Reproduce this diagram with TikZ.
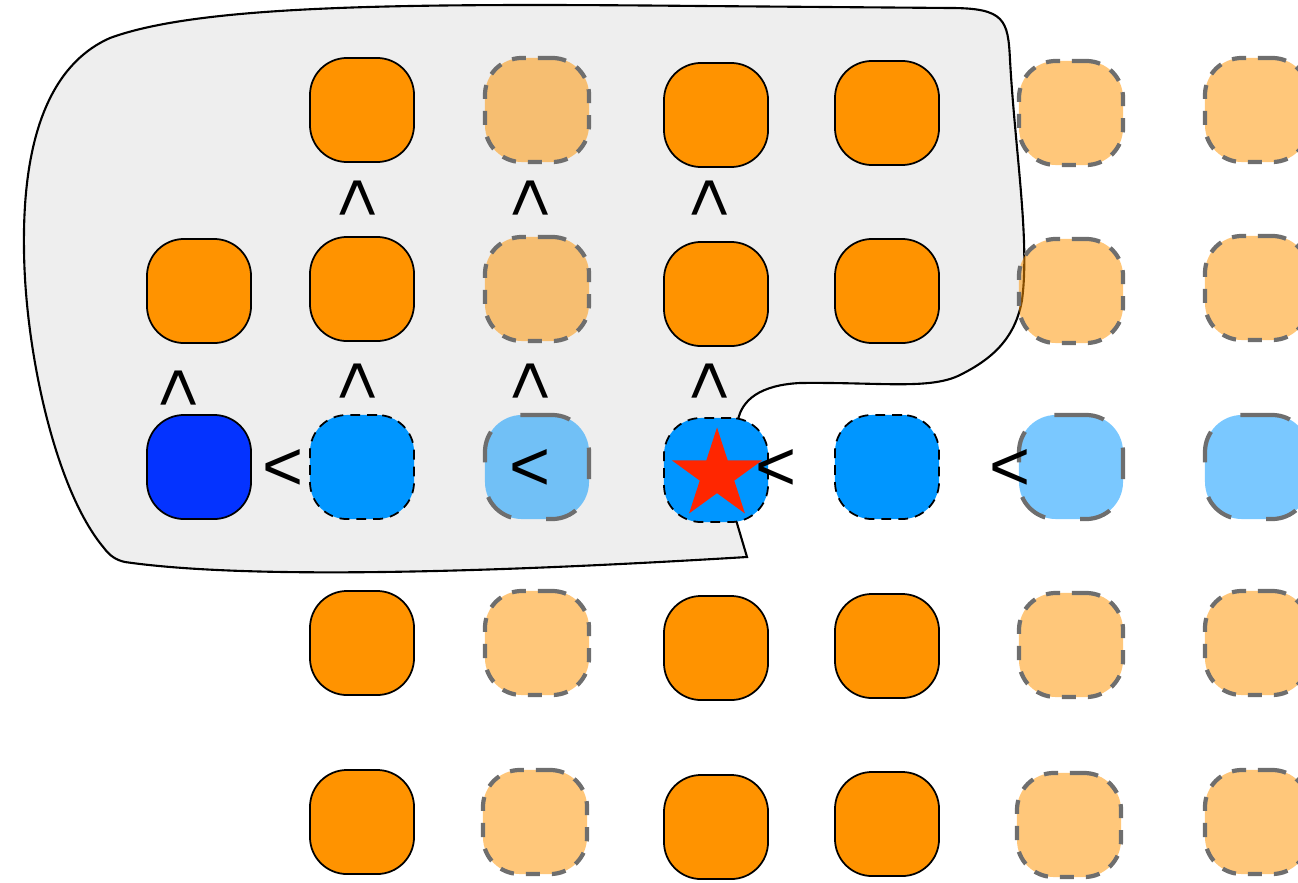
\documentclass[tikz,border=0pt]{standalone}
\usepackage{fontspec}
\setmainfont{Liberation Sans}
\usetikzlibrary{shapes.geometric}
\definecolor{tangerine}{RGB}{255,147,0}
\definecolor{aqua}{RGB}{0,150,255}
\definecolor{blueberry}{RGB}{4,51,255}
\definecolor{maraschino}{RGB}{255,38,0}
\definecolor{steel}{RGB}{110,110,110}
\definecolor{regiongray}{RGB}{238,238,238}

\tikzset{
  cell/.style={minimum width=1.04cm, minimum height=1.04cm, rounded corners=3.7mm, inner sep=0pt},
  donecell/.style={cell, draw=black, line width=0.5pt, fill=tangerine},
  todocell/.style={cell, draw=steel, line width=1.2pt, dash pattern=on 4pt off 3.4pt, fill=tangerine, fill opacity=0.52},
  headcell/.style={cell, draw=black, line width=0.5pt, fill=blueberry},
  rowcell/.style={cell, draw=black, line width=0.5pt, dash pattern=on 2.8pt off 2pt, fill=aqua},
  waitcell/.style={cell, draw=steel, line width=1.2pt, dash pattern=on 9pt off 10pt, fill=aqua, fill opacity=0.52},
  ltsym/.style={font=\fontsize{20}{24}\selectfont, inner sep=0pt},
  upsym/.style={ltsym, rotate=-90}
}

\begin{document}
\begin{tikzpicture}[x=0.01cm, y=-0.01cm]
        \useasboundingbox (0,0) rectangle (1298,882);

        % Explored region
        \draw[fill=regiongray, line width=0.6pt] (747,557)
            .. controls (500,572) and (250,580) .. (125,562)
            .. controls (116,560) and (110,556) .. (104,548)
            .. controls (55,490) and (25,350) .. (24,250)
            .. controls (22,120) and (60,60) .. (110,38)
            .. controls (200,5) and (400,3) .. (700,6)
            -- (950,8)
            .. controls (1005,8) and (1008,20) .. (1010,60)
            .. controls (1015,150) and (1030,240) .. (1022,300)
            .. controls (1015,340) and (990,360) .. (960,375)
            .. controls (930,390) and (880,382) .. (800,383)
            .. controls (760,385) and (742,400) .. (738,420)
            -- (736,520) -- cycle;

        % Row 1
        \node[donecell] (r1c2) at (362,110) {};
        \node[todocell] (r1c3) at (537,110) {};
        \node[donecell] (r1c4) at (716,115) {};
        \node[donecell] (r1c5) at (887,113) {};
        \node[todocell] (r1c6) at (1071,113) {};
        \node[todocell] (r1c7) at (1257,110) {};

        % Row 2
        \node[donecell] (r2c1) at (199,291) {};
        \node[donecell] (r2c2) at (362,289) {};
        \node[todocell] (r2c3) at (537,289) {};
        \node[donecell] (r2c4) at (716,294) {};
        \node[donecell] (r2c5) at (887,291) {};
        \node[todocell] (r2c6) at (1071,291) {};
        \node[todocell] (r2c7) at (1257,288) {};

        % Row 3 (current row)
        \node[headcell] (r3c1) at (199,467) {};
        \node[rowcell] (r3c2) at (362,467) {};
        \node[waitcell] (r3c3) at (537,467) {};
        \node[rowcell] (r3c4) at (716,470) {};
        \node[rowcell] (r3c5) at (887,467) {};
        \node[waitcell] (r3c6) at (1071,467) {};
        \node[waitcell] (r3c7) at (1257,467) {};
        \node[star, star points=5, star point ratio=2.618, minimum size=0.95cm, inner sep=0pt, fill=maraschino] (goal) at (717,475) {};

        % Row 4
        \node[donecell] (r4c2) at (362,643) {};
        \node[todocell] (r4c3) at (537,643) {};
        \node[donecell] (r4c4) at (716,648) {};
        \node[donecell] (r4c5) at (887,646) {};
        \node[todocell] (r4c6) at (1071,645) {};
        \node[todocell] (r4c7) at (1257,643) {};

        % Row 5
        \node[donecell] (r5c2) at (362,822) {};
        \node[todocell] (r5c3) at (535,822) {};
        \node[donecell] (r5c4) at (716,827) {};
        \node[donecell] (r5c5) at (887,824) {};
        \node[todocell] (r5c6) at (1069,825) {};
        \node[todocell] (r5c7) at (1257,822) {};

        % Comparisons
        \node[upsym] (u12) at (355,198) {<};
        \node[upsym] (u13) at (528,198) {<};
        \node[upsym] (u14) at (707,198) {<};
        \node[upsym] (u21) at (176,388) {<};
        \node[upsym] (u22) at (355,381) {<};
        \node[upsym] (u23) at (528,381) {<};
        \node[upsym] (u24) at (707,381) {<};
        \node[ltsym] (l1) at (283,470) {<};
        \node[ltsym] (l2) at (530,470) {<};
        \node[ltsym] (l3) at (776,470) {<};
        \node[ltsym] (l4) at (1010,470) {<};
    \end{tikzpicture}
\end{document}
